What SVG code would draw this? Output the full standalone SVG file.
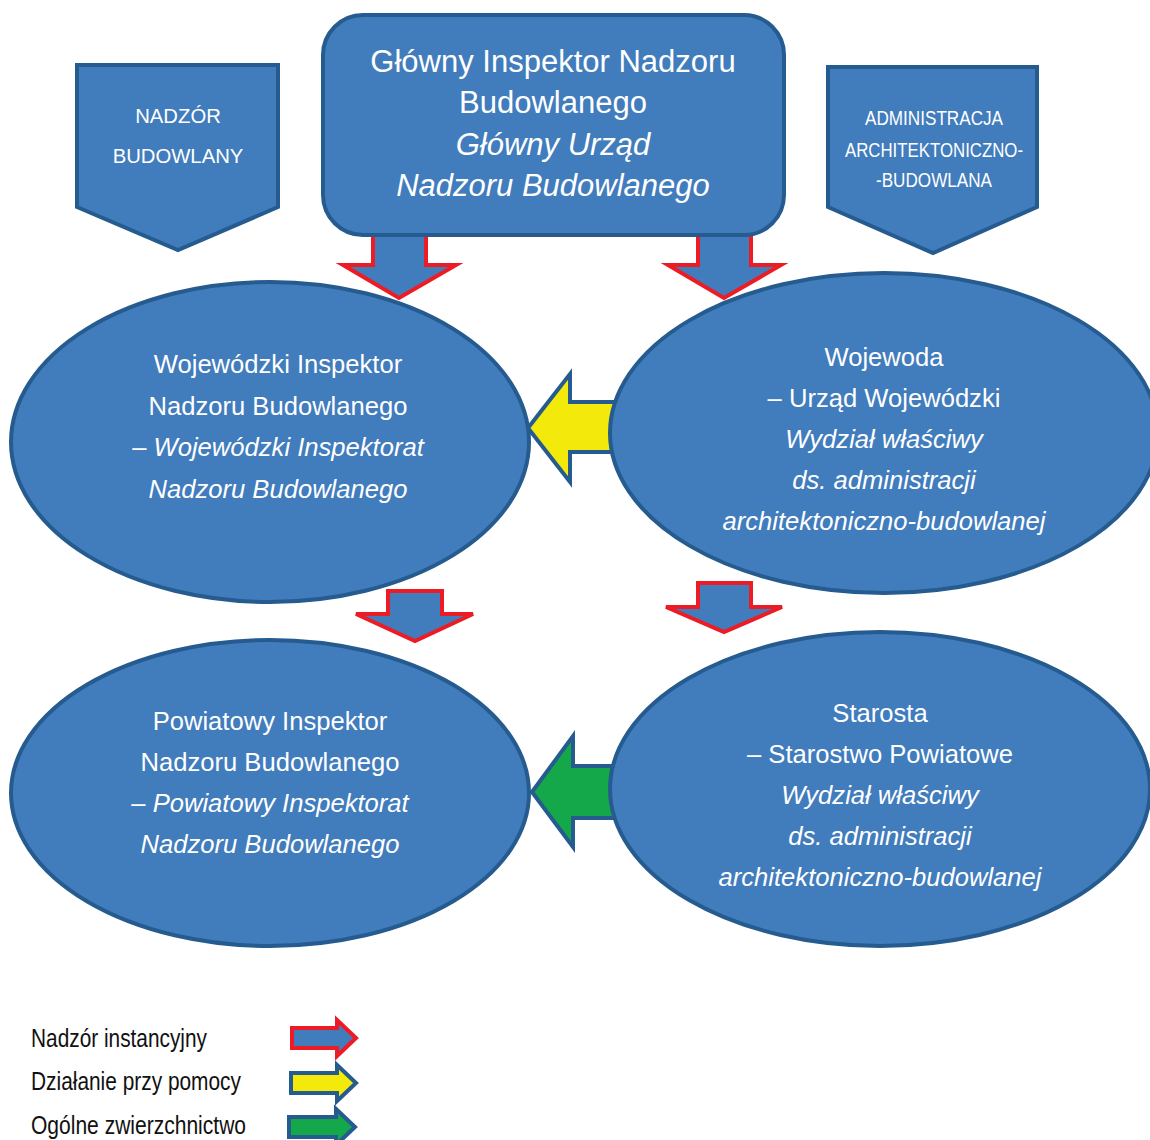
<svg xmlns="http://www.w3.org/2000/svg" width="1150" height="1140" viewBox="0 0 1150 1140">
<style>
.node{fill:#417cbd;stroke:#255b8e;stroke-width:4}
.t{font-family:"Liberation Sans",Arial,sans-serif;fill:#fff;text-anchor:middle}
.e{font-size:25.6px}
.h{font-size:31px}
.i{font-style:italic}
.red{fill:#417cbd;stroke:#ed1c24;stroke-width:4;stroke-linejoin:miter}
.yel{fill:#f3ea0c;stroke:#255b8e;stroke-width:4}
.grn{fill:#14a84a;stroke:#255b8e;stroke-width:4}
.lg{font-family:"Liberation Sans",Arial,sans-serif;fill:#111;font-size:26px}
</style>
<rect width="1150" height="1140" fill="#fff"/>
<g id="connectors">
<polygon class="red" points="373,225 426,225 426,265 456,265 399,298 343,265 373,265"/>
<polygon class="red" points="698,225 751,225 751,265 781,265 724,298 668,265 698,265"/>
<polygon class="red" points="388,591 442,591 442,614 473,614 415,641 356,614 388,614"/>
<polygon class="red" points="698,583 751,583 751,607 782,607 724,632 666,607 698,607"/>
<polygon class="yel" points="528,428 570,374 570,402 630,402 630,452 570,452 570,482"/>
<polygon class="grn" points="532,792 573,736 573,766 630,766 630,818 573,818 573,847"/>
</g>
<g id="nadzor">
<polygon class="node" points="77,65 278,65 278,207 178,250 77,207"/>
<text class="t" x="178" y="123" font-size="20.3">NADZÓR</text>
<text class="t" x="178" y="163" font-size="20.3">BUDOWLANY</text>
</g>
<g id="administracja">
<polygon class="node" points="828,67 1037,67 1037,207 933,253 828,207"/>
<text class="t" x="934" y="125" font-size="20" textLength="138" lengthAdjust="spacingAndGlyphs">ADMINISTRACJA</text>
<text class="t" x="934" y="157" font-size="20" textLength="178" lengthAdjust="spacingAndGlyphs">ARCHITEKTONICZNO-</text>
<text class="t" x="934" y="187" font-size="20" textLength="116" lengthAdjust="spacingAndGlyphs">-BUDOWLANA</text>
</g>
<g id="ginb">
<rect class="node" x="323" y="15" width="461" height="220" rx="40"/>
<text class="t h" x="553" y="72">Główny Inspektor Nadzoru</text>
<text class="t h" x="553" y="113">Budowlanego</text>
<text class="t h i" x="553" y="155">Główny Urząd</text>
<text class="t h i" x="553" y="196">Nadzoru Budowlanego</text>
</g>
<g id="winb">
<ellipse class="node" cx="270" cy="442" rx="259" ry="160"/>
<text class="t e" x="278" y="373">Wojewódzki Inspektor</text>
<text class="t e" x="278" y="415">Nadzoru Budowlanego</text>
<text class="t e" x="278" y="456">– <tspan class="i">Wojewódzki Inspektorat</tspan></text>
<text class="t e i" x="278" y="498">Nadzoru Budowlanego</text>
</g>
<g id="wojewoda">
<ellipse class="node" cx="884" cy="433" rx="274" ry="160"/>
<text class="t e" x="884" y="366">Wojewoda</text>
<text class="t e" x="884" y="407">– Urząd Wojewódzki</text>
<text class="t e i" x="884" y="448">Wydział właściwy</text>
<text class="t e i" x="884" y="489">ds. administracji</text>
<text class="t e i" x="884" y="530">architektoniczno-budowlanej</text>
</g>
<g id="pinb">
<ellipse class="node" cx="270" cy="793" rx="259" ry="153"/>
<text class="t e" x="270" y="730">Powiatowy Inspektor</text>
<text class="t e" x="270" y="771">Nadzoru Budowlanego</text>
<text class="t e" x="270" y="812">– <tspan class="i">Powiatowy Inspektorat</tspan></text>
<text class="t e i" x="270" y="853">Nadzoru Budowlanego</text>
</g>
<g id="starosta">
<ellipse class="node" cx="880" cy="789" rx="270" ry="157"/>
<text class="t e" x="880" y="722">Starosta</text>
<text class="t e" x="880" y="763">– Starostwo Powiatowe</text>
<text class="t e i" x="880" y="804">Wydział właściwy</text>
<text class="t e i" x="880" y="845">ds. administracji</text>
<text class="t e i" x="880" y="886">architektoniczno-budowlanej</text>
</g>
<g id="legend">
<text class="lg" x="31" y="1047" textLength="176" lengthAdjust="spacingAndGlyphs">Nadzór instancyjny</text>
<text class="lg" x="31" y="1090" textLength="210" lengthAdjust="spacingAndGlyphs">Działanie przy pomocy</text>
<text class="lg" x="31" y="1134" textLength="215" lengthAdjust="spacingAndGlyphs">Ogólne zwierzchnictwo</text>
<polygon class="red" points="292,1028 337,1028 337,1020 356,1038 337,1056 337,1048 292,1048"/>
<polygon class="yel" points="291,1073 337,1073 337,1065 356,1083 337,1101 337,1093 291,1093"/>
<polygon class="grn" points="289,1117 336,1117 336,1109 355,1127 336,1145 336,1137 289,1137"/>
</g>
</svg>
